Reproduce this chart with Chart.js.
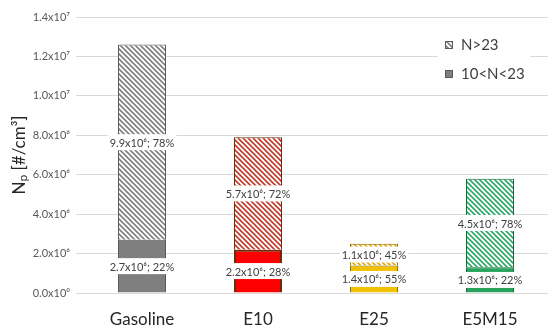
<!DOCTYPE html>
<html>
<head>
<meta charset="utf-8">
<script src="https://cdn.jsdelivr.net/npm/chart.js@4"></script>
<style>
  html, body { margin: 0; padding: 0; background: #fff; }
  #wrap { width: 550px; height: 329px; }
</style>
</head>
<body>
<div id="wrap"><canvas id="np"></canvas></div>
<script>
const fuels = ['Gasoline', 'E10', 'E25', 'E5M15']
const seriesNames = ['10<N<23', 'N>23']
const smallVals = [2.7e6, 2.2e6, 1.4e6, 1.3e6]
const largeVals = [9.9e6, 5.7e6, 1.1e6, 4.5e6]
const smallPct = [22, 28, 55, 22]
const largePct = [78, 72, 45, 78]
const yTicks = [0, 2e6, 4e6, 6e6, 8e6, 1e7, 1.2e7, 1.4e7]

const solidColors = ['#7f7f7f', '#ff0000', '#f2c200', '#27a35c']
const hatchColors = ['#7f7f7f', '#c0392b', '#e8a400', '#2ea866']
const borderColors = ['#595959', '#6e2a0a', '#8a6d00', '#126b3a']

const FONT = 'Lato, "Open Sans", "DejaVu Sans", sans-serif'
const sup = '⁰¹²³⁴⁵⁶⁷⁸⁹'

function sci (v) {
  if (v === 0) return '0.0x10' + sup[0]
  const e = Math.floor(Math.log10(v) + 1e-9)
  const m = Math.round(v / Math.pow(10, e) * 10) / 10
  return m.toFixed(1) + 'x10' + String(e).split('').map(d => sup[+d]).join('')
}

function hatch (color) {
  const c = document.createElement('canvas')
  c.width = 5
  c.height = 5
  const g = c.getContext('2d')
  g.fillStyle = '#fff'
  g.fillRect(0, 0, 5, 5)
  g.strokeStyle = color
  g.lineWidth = 1.6
  g.beginPath()
  g.moveTo(-1, -1); g.lineTo(6, 6)
  g.moveTo(-1, 4); g.lineTo(1, 6)
  g.moveTo(4, -1); g.lineTo(6, 1)
  g.stroke()
  return g.createPattern(c, 'repeat')
}

const labelTexts = [
  smallVals.map((v, i) => sci(v) + '; ' + smallPct[i] + '%'),
  largeVals.map((v, i) => sci(v) + '; ' + largePct[i] + '%')
]

const barLabels = {
  id: 'barLabels',
  afterDatasetsDraw (chart) {
    const ctx = chart.ctx
    ctx.save()
    ctx.font = '11px ' + FONT
    ctx.textAlign = 'center'
    ctx.textBaseline = 'middle'
    chart.data.datasets.forEach((ds, i) => {
      chart.getDatasetMeta(i).data.forEach((bar, j) => {
        const t = labelTexts[i][j]
        const w = ctx.measureText(t).width + 4
        const cy = (bar.y + bar.base) / 2
        ctx.fillStyle = '#fff'
        ctx.fillRect(bar.x - w / 2, cy - 8, w, 16)
        ctx.fillStyle = '#404040'
        ctx.fillText(t, bar.x, cy + 1)
      })
    })
    ctx.restore()
  }
}

const boxLegend = {
  id: 'boxLegend',
  afterDraw (chart) {
    const ctx = chart.ctx
    const a = chart.chartArea
    const x0 = a.right - 110
    const y0 = a.top + 15
    ctx.save()
    ctx.fillStyle = '#fff'
    ctx.fillRect(x0, y0, 92, 56)
    const rows = [
      { name: seriesNames[1], fill: hatch('#7f7f7f') },
      { name: seriesNames[0], fill: '#7f7f7f' }
    ]
    ctx.font = '15px ' + FONT
    ctx.textBaseline = 'middle'
    rows.forEach((r, k) => {
      const cy = y0 + 13 + k * 29
      ctx.fillStyle = r.fill
      ctx.fillRect(x0 + 7, cy - 4, 8, 8)
      ctx.strokeStyle = '#595959'
      ctx.lineWidth = 1
      ctx.strokeRect(x0 + 7.5, cy - 3.5, 7, 7)
      ctx.fillStyle = '#404040'
      ctx.fillText(r.name, x0 + 23, cy)
    })
    ctx.restore()
  }
}

const ctx = document.getElementById('np').getContext('2d')

const npChart = new Chart(ctx, {
  type: 'bar',
  data: {
    labels: fuels,
    datasets: [
      {
        label: seriesNames[0],
        data: smallVals,
        backgroundColor: solidColors,
        borderColor: borderColors,
        borderWidth: [1, 2, 1, 1]
      },
      {
        label: seriesNames[1],
        data: largeVals,
        backgroundColor: hatchColors.map(hatch),
        borderColor: borderColors,
        borderWidth: 1
      }
    ]
  },
  options: {
    responsive: true,
    maintainAspectRatio: false,
    animation: false,
    layout: { padding: { top: 17, right: 2, left: 0, bottom: 0 } },
    datasets: { bar: { categoryPercentage: 1, barPercentage: 0.414 } },
    plugins: {
      legend: { display: false },
      tooltip: { enabled: false }
    },
    scales: {
      x: {
        stacked: true,
        grid: { display: false },
        border: { display: false },
        ticks: { color: '#262626', font: { family: FONT, size: 17 }, padding: 8 },
        afterFit (scale) { scale.height = 36 }
      },
      y: {
        stacked: true,
        min: 0,
        max: 1.4e7,
        afterBuildTicks (scale) { scale.ticks = yTicks.map(v => ({ value: v })) },
        grid: { color: '#d9d9d9' },
        border: { display: false },
        ticks: {
          color: '#595959',
          font: { family: FONT, size: 11 },
          padding: 6,
          callback: v => sci(v)
        },
        title: {
          display: true,
          text: 'N\u209A [#/cm\u00B3]',
          color: '#262626',
          font: { family: FONT, size: 17 },
          padding: { top: 9, bottom: 0 }
        },
        afterFit (scale) { scale.width = 84 }
      }
    }
  },
  plugins: [barLabels, boxLegend]
})
</script>
</body>
</html>
